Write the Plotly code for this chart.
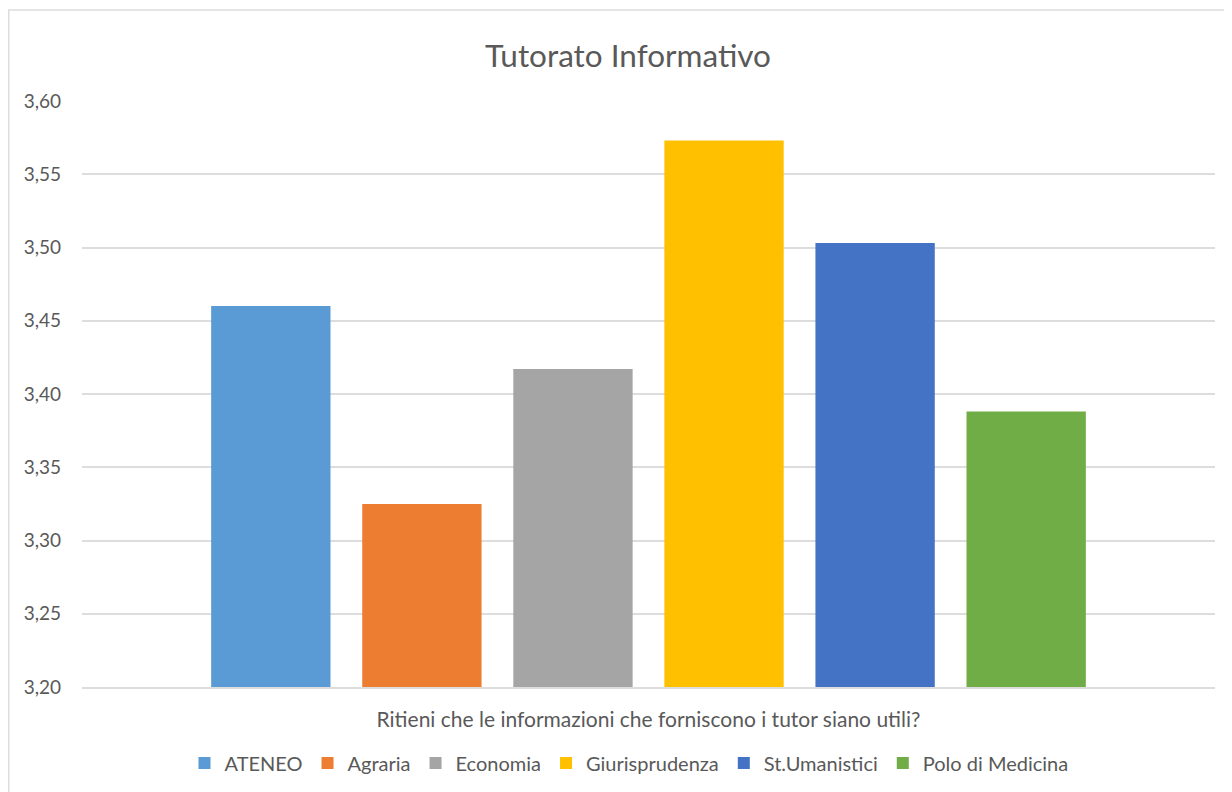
import plotly.graph_objects as go

category = ["Ritieni che le informazioni che forniscono i tutor siano utili?"]
series_names = ["ATENEO", "Agraria", "Economia", "Giurisprudenza", "St.Umanistici", "Polo di Medicina"]
series_values = [3.460, 3.325, 3.417, 3.573, 3.503, 3.388]
series_colors = ["#5B9BD5", "#ED7D31", "#A5A5A5", "#FFC000", "#4472C4", "#70AD47"]
y_ticks = [3.20, 3.25, 3.30, 3.35, 3.40, 3.45, 3.50, 3.55, 3.60]

FONT = "Lato"
TXT = "#595959"
GRID = "#DDDDDD"

fig = go.Figure()
for name, val, col in zip(series_names, series_values, series_colors):
    fig.add_trace(go.Bar(
        x=category, y=[val], name=name,
        marker=dict(color=col, line=dict(width=0)),
    ))

# page body has an 8px margin; figure is sized/offset to compensate
W, H = 1224, 784
L, R, T, B = 74, 17, 93, 105
pw = W - L - R
ph = H - T - B

def px_x(px):
    return (px - L) / pw

def px_y(py):
    return (H - B - py) / ph

fig.update_layout(
    width=W, height=H,
    margin=dict(l=L, r=R, t=T, b=B),
    paper_bgcolor="white", plot_bgcolor="white",
    separators=",.",
    barmode="group", bargap=0.2, bargroupgap=0.21,
    font=dict(family=FONT, color=TXT, size=19),
    title=dict(text="Tutorato Informativo", x=620 / W, xanchor="center",
               xref="container", y=1 - 48 / H, yanchor="middle", yref="container",
               font=dict(family=FONT, size=31.5, color=TXT)),
    showlegend=True,
    legend=dict(orientation="h", xref="container", yref="container",
                x=621 / W, xanchor="center", y=1 - 755 / H, yanchor="middle",
                font=dict(family=FONT, size=20, color=TXT),
                itemwidth=30, traceorder="normal"),
    xaxis=dict(showgrid=False, showline=True, linecolor=GRID, linewidth=1.5,
               ticks="", tickfont=dict(family=FONT, size=21, color=TXT),
               ticklabelstandoff=13),
    yaxis=dict(range=[3.20, 3.60], tickvals=y_ticks, tickformat=".2f",
               showgrid=True, gridcolor=GRID, gridwidth=1.5,
               zeroline=False, showline=False, ticks="",
               tickfont=dict(family=FONT, size=19, color=TXT),
               ticklabelstandoff=20),
    shapes=[
        dict(type="line", xref="paper", yref="paper",
             x0=px_x(0), x1=px_x(1300), y0=px_y(2), y1=px_y(2),
             line=dict(color=GRID, width=1.5)),
        dict(type="line", xref="paper", yref="paper",
             x0=px_x(0.75), x1=px_x(0.75), y0=px_y(2), y1=px_y(850),
             line=dict(color=GRID, width=1.5)),
    ],
)

fig.write_html("out.html")
